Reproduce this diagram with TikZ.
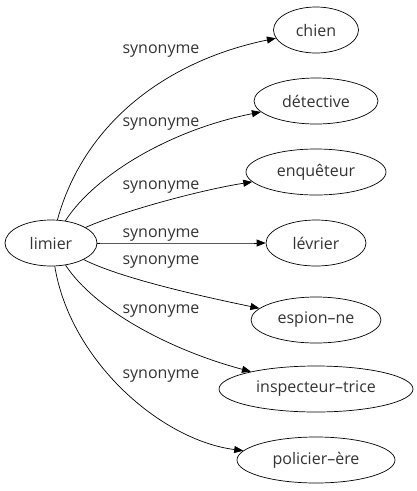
\documentclass[tikz,border=0pt]{standalone}
\usepackage{fontspec}
\setmainfont{Open Sans}
\usetikzlibrary{shapes.geometric,arrows.meta}
\begin{document}
\begin{tikzpicture}[x=1pt, y=-1pt, every node/.style={font=\fontsize{16}{18}\selectfont, text=black!80},
  word/.style={draw=black, ellipse, inner sep=0pt, minimum height=46pt, line width=0.7pt},
  syn/.style={line width=0.7pt, -{Triangle[length=9pt,width=7pt]}}]
\useasboundingbox (0,0) rectangle (416,491);
% root word
\node[word, minimum width=92pt] (limier) at (51,243) {limier};
% synonyms, one column
\foreach \nm/\y/\w/\txt in {chien/30/85/chien, detective/101/124/détective, enqueteur/172/140/enquêteur, levrier/243/100/lévrier, espion/320/130/espion–ne, inspecteur/389/194/inspecteur–trice, policier/460/158/policier–ère}
  \node[word, minimum width=\w pt] (\nm) at (316,\y) {\txt};
% edges and their labels
\foreach \nm/\ax/\ay/\bx/\by/\ly in {chien/85/120/170/60/51, detective/95/175/170/130/124, enqueteur/120/212/200/190/187, levrier/150/243/200/243/235, espion/120/278/200/296/262, inspecteur/95/310/170/350/311, policier/70/360/160/440/376} {
  \draw[syn] (limier) .. controls (\ax,\ay) and (\bx,\by) .. (\nm);
  \node (lbl-\nm) at (161,\ly) {synonyme};
}
\end{tikzpicture}
\end{document}
